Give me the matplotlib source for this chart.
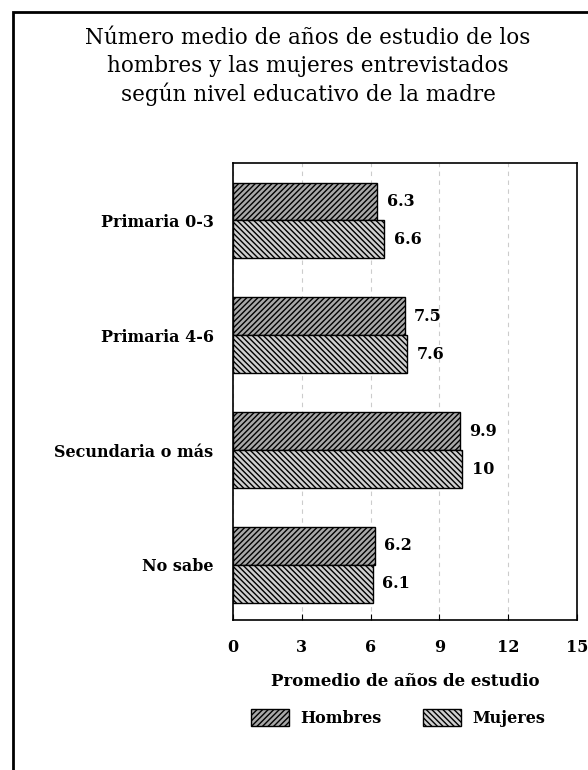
import matplotlib
matplotlib.use("Agg")
import matplotlib.pyplot as plt
from matplotlib.patches import Rectangle, Patch
import numpy as np

categories = ["Primaria 0-3", "Primaria 4-6", "Secundaria o más", "No sabe"]
hombres = [6.3, 7.5, 9.9, 6.2]
mujeres = [6.6, 7.6, 10, 6.1]
hombres_lbl = ["6.3", "7.5", "9.9", "6.2"]
mujeres_lbl = ["6.6", "7.6", "10", "6.1"]
xticks = [0, 3, 6, 9, 12, 15]

W, H = 588, 770
fig = plt.figure(figsize=(W/100, H/100), dpi=100)
serif = "DejaVu Serif"
fs = 11.5

# outer frame
fig.patches.append(Rectangle((13/W, -0.01), 1.0, 1 - 12/H + 0.01, transform=fig.transFigure,
                             fill=False, edgecolor="black", linewidth=2))

for k, line in enumerate(["Número medio de años de estudio de los",
                          "hombres y las mujeres entrevistados",
                          "según nivel educativo de la madre"]):
    fig.text(308/W, 1 - (38 + 28*k)/H, line, ha="center", va="center",
             fontsize=15.5, family=serif)

ax = fig.add_axes([233/W, 1 - 620/H, (577-233)/W, (620-163)/H])
y = np.arange(len(categories))
h = 0.33
ax.barh(y - h/2, hombres, height=h, facecolor="#a8a8a8", edgecolor="black", hatch="//////", linewidth=1)
ax.barh(y + h/2, mujeres, height=h, facecolor="#d0d0d0", edgecolor="black", hatch="\\\\\\\\\\\\", linewidth=1)
for i in range(len(categories)):
    ax.text(hombres[i] + 0.4, y[i] - h/2, hombres_lbl[i], va="center", ha="left",
            fontsize=fs, fontweight="bold", family=serif)
    ax.text(mujeres[i] + 0.4, y[i] + h/2, mujeres_lbl[i], va="center", ha="left",
            fontsize=fs, fontweight="bold", family=serif)

ax.set_xlim(0, 15)
ax.set_ylim(3.48, -0.5)
ax.set_xticks(xticks)
ax.set_xticklabels([str(t) for t in xticks], fontsize=fs, fontweight="bold", family=serif)
ax.set_yticks(y)
ax.set_yticklabels(categories, fontsize=fs, fontweight="bold", family=serif)
ax.tick_params(axis="y", length=0, pad=14)
ax.tick_params(axis="x", direction="in", length=4, pad=14)
ax.xaxis.grid(True, color="#cccccc", linestyle=(0, (4, 4)), linewidth=0.8)
ax.set_axisbelow(True)
for s in ax.spines.values():
    s.set_linewidth(1.2)
ax.set_xlabel("Promedio de años de estudio", fontsize=12, fontweight="bold", family=serif, labelpad=12)

handles = [Patch(facecolor="#a8a8a8", edgecolor="black", hatch="//////", label="Hombres"),
           Patch(facecolor="#d0d0d0", edgecolor="black", hatch="\\\\\\\\\\\\", label="Mujeres")]
fig.legend(handles=handles, loc="center", bbox_to_anchor=(398/W, 1 - 718/H), ncol=2, frameon=False,
           prop={"family": serif, "weight": "bold", "size": fs}, handlelength=2.4, handleheight=1.3,
           columnspacing=2.6, handletextpad=0.7)

fig.savefig("out.png", dpi=100, facecolor="white")
